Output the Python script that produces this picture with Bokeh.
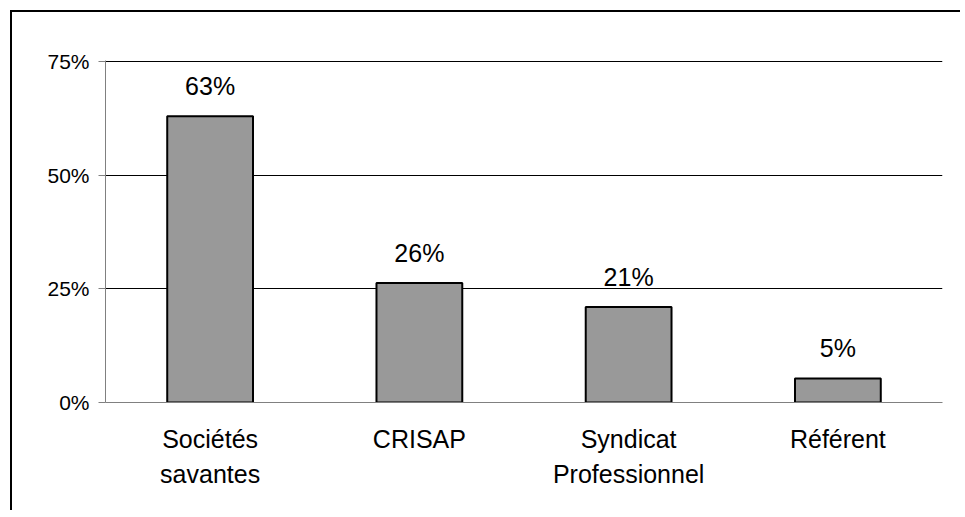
from bokeh.plotting import figure
from bokeh.models import ColumnDataSource, FixedTicker, PrintfTickFormatter, Range1d
from bokeh.core.properties import value
from bokeh.embed import file_html
from bokeh.resources import INLINE

categories = ["Sociétés\nsavantes", "CRISAP", "Syndicat\nProfessionnel", "Référent"]
values = [63.0, 26.3, 21.0, 5.3]
value_labels = ["63%", "26%", "21%", "5%"]
y_ticks = [0, 25, 50, 75]

FONT = "Liberation Sans"

src = ColumnDataSource(dict(cat=categories, val=values, lab=value_labels))

p = figure(x_range=categories, y_range=Range1d(0, 75.3), width=950, height=500,
           output_backend="svg", toolbar_location=None,
           min_border_left=93, min_border_right=20, min_border_top=48, min_border_bottom=110)
p.x_range.range_padding = 0
p.outline_line_color = None
p.background_fill_color = "white"
p.border_fill_color = "white"
p.styles = {"margin-left": "10px", "margin-top": "10px",
            "border-left": "2px solid black", "border-top": "2px solid black"}

p.vbar(x="cat", top="val", width=0.41, bottom=0, source=src,
       fill_color="#999999", line_color="black", line_width=2)

p.text(x="cat", y="val", text="lab", source=src, y_offset=-30,
       text_align="center", text_baseline="alphabetic",
       text_font=value(FONT), text_font_size="25px", text_color="black")

# axes
p.xgrid.grid_line_color = None
p.ygrid.grid_line_color = "black"
p.ygrid.grid_line_width = 1
p.yaxis.ticker = FixedTicker(ticks=y_ticks)
p.yaxis.formatter = PrintfTickFormatter(format="%d%%")
p.yaxis.axis_line_color = "#808080"
p.yaxis.major_tick_line_color = "#808080"
p.yaxis.major_tick_out = 7
p.yaxis.major_tick_in = 0
p.yaxis.minor_tick_line_color = None
p.yaxis.major_label_standoff = 9
p.yaxis.major_label_text_font = FONT
p.yaxis.major_label_text_font_size = "21px"
p.yaxis.major_label_text_color = "black"

p.xaxis.axis_line_color = "#808080"
p.xaxis.major_tick_line_color = None
p.xaxis.minor_tick_line_color = None
p.xaxis.major_label_standoff = 16
p.xaxis.major_label_text_font = FONT
p.xaxis.major_label_text_font_size = "25px"
p.xaxis.major_label_text_color = "black"
p.xaxis.major_label_text_line_height = 1.27

open("out.html", "w").write(file_html(p, INLINE))
